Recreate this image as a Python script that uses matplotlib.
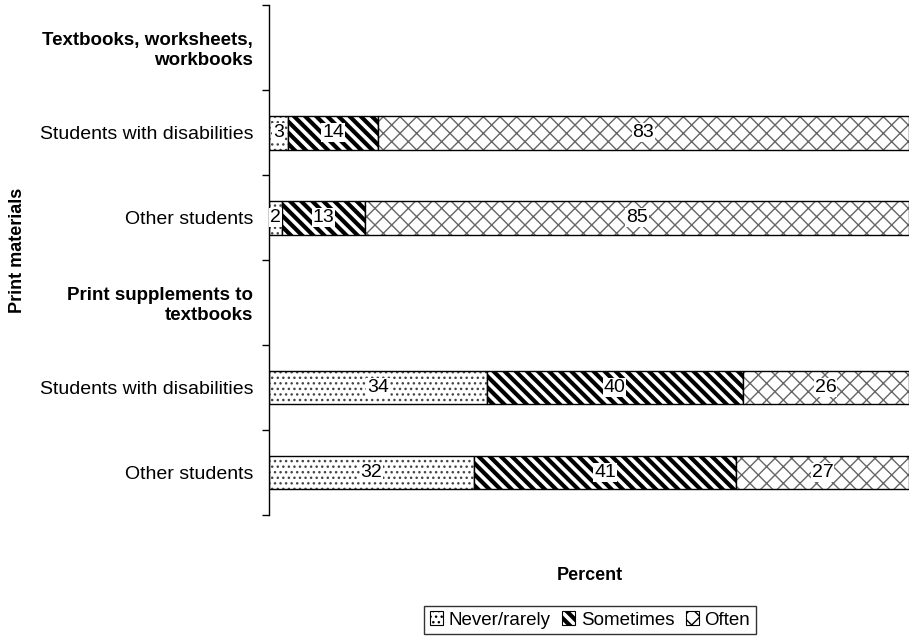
import numpy as np
import matplotlib
matplotlib.use("Agg")
import matplotlib.pyplot as plt
from matplotlib.patches import Patch

plt.rcParams['font.family'] = ['Liberation Sans', 'DejaVu Sans']

# rows from top to bottom; headers have no bars
row_labels = ['Textbooks, worksheets,\nworkbooks', 'Students with disabilities', 'Other students',
              'Print supplements to\ntextbooks', 'Students with disabilities', 'Other students']
is_header = [True, False, False, True, False, False]
series = ['Never/rarely', 'Sometimes', 'Often']
never = [np.nan, 3, 2, np.nan, 34, 32]
sometimes = [np.nan, 14, 13, np.nan, 40, 41]
often = [np.nan, 83, 85, np.nan, 26, 27]

hatches = ['...', '\\\\\\', 'xx']
hatch_cols = ['#444444', 'black', '#666666']
hatch_lw = [1.0, 3.0, 1.0]

fig = plt.figure(figsize=(9.15, 6.37), dpi=100)
ax = fig.add_axes([269 / 915, 1 - 515 / 637, 640 / 915, 510 / 637])

y = np.arange(len(row_labels))
vals = [np.array(never, float), np.array(sometimes, float), np.array(often, float)]
has_bar = ~np.isnan(vals[0])
yb = y[has_bar]
left = np.zeros(len(yb))
for i, v in enumerate(vals):
    w = v[has_bar]
    with plt.rc_context({'hatch.linewidth': hatch_lw[i], 'hatch.color': hatch_cols[i]}):
        ax.barh(yb, w, left=left, height=0.4, color='white', edgecolor=hatch_cols[i],
                hatch=hatches[i], linewidth=0)
    ax.barh(yb, w, left=left, height=0.4, color='none', edgecolor='black', linewidth=1.0)
    for yy, ll, ww in zip(yb, left, w):
        ax.text(ll + ww / 2, yy, '%d' % ww, ha='center', va='center', fontsize=14,
                bbox=dict(facecolor='white', edgecolor='none', pad=0.5))
    left = left + w

ax.set_xlim(0, 100)
ax.set_ylim(len(y) - 0.5, -0.5)
ax.set_xticks([])
for s in ['top', 'right', 'bottom']:
    ax.spines[s].set_visible(False)
ax.spines['left'].set_linewidth(1.0)

ax.set_yticks(y)
ax.set_yticklabels(row_labels)
ax.tick_params(axis='y', which='major', length=0, pad=11.5)
for lab, h in zip(ax.get_yticklabels(), is_header):
    lab.set_ha('right')
    lab.set_multialignment('right')
    if h:
        lab.set_fontweight('bold')
        lab.set_fontsize(13.5)
    else:
        lab.set_fontsize(14)
ax.set_yticks(np.arange(len(y) + 1) - 0.5, minor=True)
ax.tick_params(axis='y', which='minor', length=5, width=1.0)

fig.text(18 / 915, 1 - 250 / 637, 'Print materials', rotation=90, ha='center', va='center',
         fontsize=13, fontweight='bold')
fig.text(590 / 915, 1 - 575 / 637, 'Percent', ha='center', va='center',
         fontsize=13, fontweight='bold')

handles = [Patch(facecolor='white', edgecolor='black', hatch=hatches[i], linewidth=0.8)
           for i in range(3)]
leg = fig.legend(handles, series, loc='center', bbox_to_anchor=(590 / 915, 1 - 620 / 637),
                 ncol=3, frameon=True, fancybox=False, fontsize=13.5, handlelength=0.7,
                 handleheight=0.7, handletextpad=0.3, columnspacing=0.6, borderpad=0.3)
leg.get_frame().set_edgecolor('black')
leg.get_frame().set_linewidth(1.0)
for p, lw in zip(leg.get_patches(), hatch_lw):
    if hasattr(p, 'set_hatch_linewidth'):
        p.set_hatch_linewidth(lw)

fig.savefig('out.png', dpi=100)
